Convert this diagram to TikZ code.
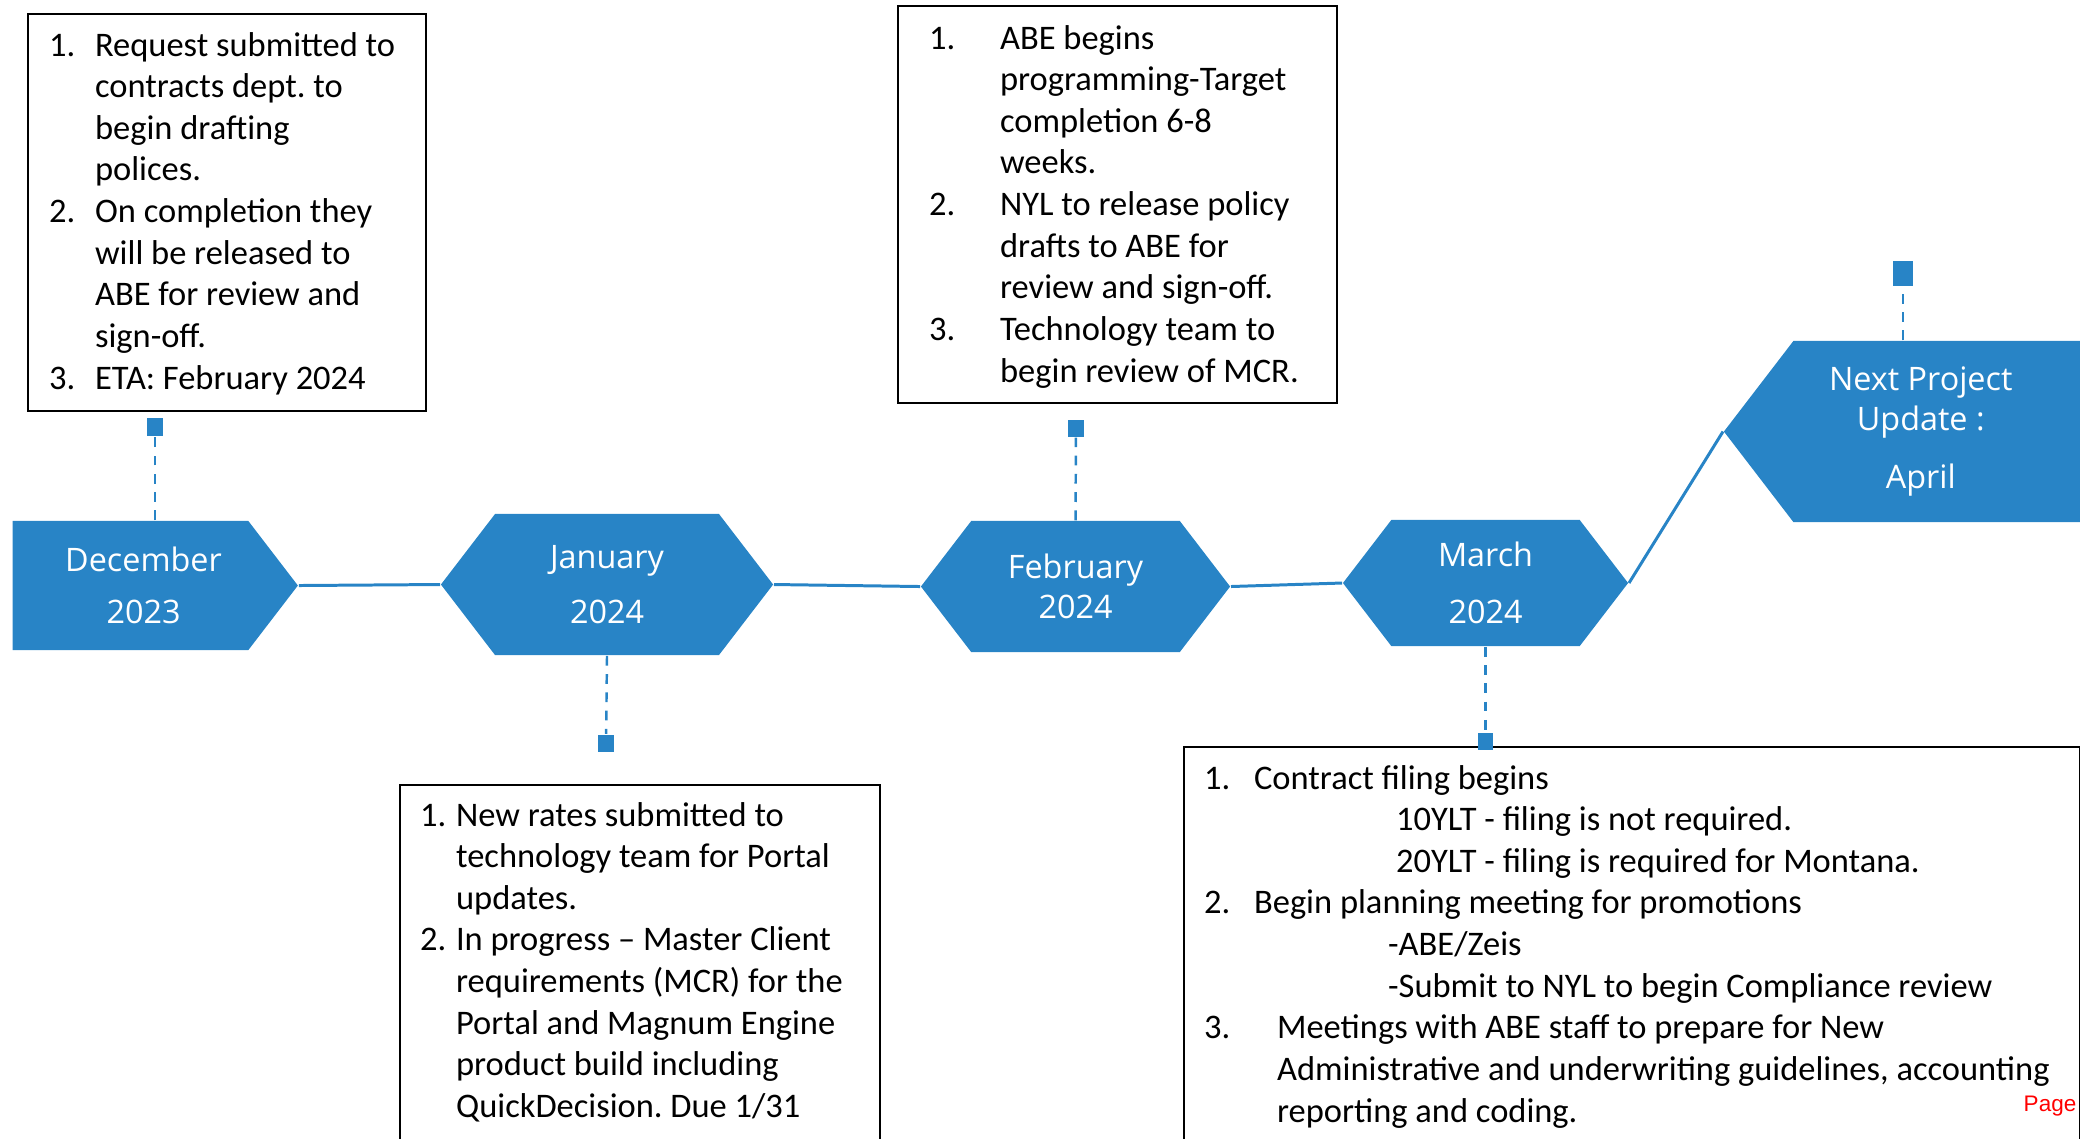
\documentclass[tikz,border=0pt]{standalone}
\usepackage{fontspec}
\setmainfont{Carlito}
\newfontfamily\hexfont{Open Sans}
\newfontfamily\pagefont{Liberation Sans}
\usetikzlibrary{shapes.symbols}
\definecolor{tlblue}{RGB}{40,132,198}
\newcommand{\numitem}[3]{\par\hangindent=#1\hangafter=1\noindent\makebox[#1][l]{#2}#3}
\frenchspacing

\begin{document}
\begin{tikzpicture}
  [x=0.01cm, y=-0.01cm,
    hx/.style={signal, fill=tlblue, signal pointer angle=105, inner sep=0pt,
      text=white, align=center, font=\hexfont\fontsize{9.2}{11}\selectfont},
    note/.style={draw=black, line width=0.6pt, anchor=north west,
      inner xsep=0.08cm, font=\fontsize{9.8}{11.84}\selectfont},
    mk/.style={fill=tlblue, inner sep=0pt, minimum width=0.16cm, minimum height=0.17cm},
    link/.style={draw=tlblue, line width=0.85pt},
    dl/.style={draw=tlblue, line width=0.7pt, dash pattern=on 2.8pt off 2.4pt}
  ]
  \useasboundingbox (0,0) rectangle (2080,1138);

  \node (dec) at (  12.0,585.5) [hx, anchor=west, signal to=east, minimum width=2.85cm, minimum height=1.29cm]
    {\hspace*{0.26cm}December\\[3.8pt]\hspace*{0.26cm}2023};
  \node (jan) at ( 607.0,584.5) [hx, signal to=east and west, minimum width=3.32cm, minimum height=1.41cm] {January\\[4.6pt]2024};
  \node (feb) at (1075.5,586.5) [hx, signal to=east and west, minimum width=3.09cm, minimum height=1.31cm] {February\\[0.4pt]2024};
  \node (mar) at (1485.5,583.0) [hx, signal to=east and west, minimum width=2.85cm, minimum height=1.26cm] {March\\[5.2pt]2024};
  \node (apr) at (1723.0,431.5) [hx, anchor=west, signal to=west, minimum width=3.94cm, minimum height=1.81cm]
    {\hspace*{-0.7cm}Next Project\\[0.4pt]\hspace*{-0.7cm}Update :\\[5.5pt]\hspace*{-0.7cm}April};

  \draw [link] (dec.east) -- (jan.west);
  \draw [link] (jan.east) -- (feb.west);
  \draw [link] (feb.east) -- (mar.west);
  \draw [link] (mar.east) -- (apr.west);

  \node (ndec) at (27,13) [note, inner ysep=0.18cm]
    {\parbox[c][3.61cm][t]{3.82cm}{\raggedright\leftskip=0.13cm
      \numitem{0.46cm}{1.}{Request submitted to\newline contracts dept. to\newline begin drafting\newline polices.}
      \numitem{0.46cm}{2.}{On completion they\newline will be released to\newline ABE for review and\newline sign-off.}
      \numitem{0.46cm}{3.}{ETA: February 2024}}};
  \node (njan) at (399,784) [note, inner ysep=0.17cm]
    {\parbox[c][3.42cm][t]{4.64cm}{\raggedright\leftskip=0.12cm
      \numitem{0.36cm}{1.}{New rates submitted to\newline technology team for Portal\newline updates.}
      \numitem{0.36cm}{2.}{In progress -- Master Client\newline requirements (MCR) for the\newline Portal and Magnum Engine\newline product build including\newline QuickDecision. Due 1/31}}};
  \node (nfeb) at (897,5) [note, inner ysep=0.19cm]
    {\parbox[c][3.59cm][t]{4.23cm}{\raggedright\leftskip=0.23cm
      \numitem{0.71cm}{1.}{ABE begins\newline programming-Target\newline completion 6-8\newline weeks.}
      \numitem{0.71cm}{2.}{NYL to release policy\newline drafts to ABE for\newline review and sign-off.}
      \numitem{0.71cm}{3.}{Technology team to\newline begin review of MCR.}}};
  \node (nmar) at (1183,746) [note, inner ysep=0.18cm]
    {\parbox[c][3.88cm][t]{8.79cm}{\raggedright\leftskip=0.12cm
      \numitem{0.50cm}{1.}{Contract filing begins\newline\hspace*{1.42cm}10YLT - filing is not required.\newline\hspace*{1.42cm}20YLT - filing is required for Montana.}
      \numitem{0.50cm}{2.}{Begin planning meeting for promotions\newline\hspace*{1.34cm}-ABE/Zeis\newline\hspace*{1.34cm}-Submit to NYL to begin Compliance review}
      \numitem{0.73cm}{3.}{Meetings with ABE staff to prepare for New\newline Administrative and underwriting guidelines, accounting\newline reporting and coding.}}};

  \node (mdec) at ( 155.0,427.0) [mk, minimum width=0.15cm, minimum height=0.18cm] {};
  \node (mjan) at ( 606.0,743.0) [mk] {};
  \node (mfeb) at (1076.0,428.5) [mk] {};
  \node (mmar) at (1485.5,741.0) [mk, minimum width=0.15cm] {};
  \node (mapr) at (1903.0,273.0) [mk, minimum width=0.20cm, minimum height=0.25cm] {};

  \draw [dl] (mdec |- dec.north) -- (mdec);
  \draw [dl] (jan.south) -- (mjan);
  \draw [dl] (feb.north) -- (mfeb);
  \draw [dl] (mar.south) -- (mmar);
  \draw [dl] (mapr |- apr.north) -- (mapr);

  \node (pg) at (2023,1111) [anchor=base west, inner sep=0pt, text=red,
    font=\pagefont\fontsize{6.4}{7}\selectfont] {Page};
\end{tikzpicture}
\end{document}
